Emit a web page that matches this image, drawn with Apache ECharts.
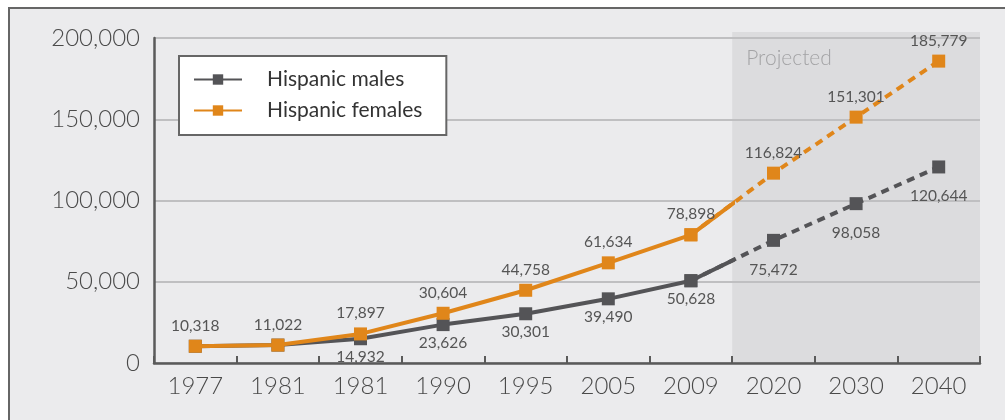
<!DOCTYPE html>
<html><head><meta charset="utf-8">
<script src="https://cdn.jsdelivr.net/npm/echarts@6/dist/echarts.min.js"></script>
<style>
html,body{margin:0;padding:0;background:#fff;overflow:hidden}
#frame{position:absolute;left:8px;top:7px;width:1010px;height:420px;background:#ebebed;border:2px solid #666;}
#chart{position:absolute;left:0;top:0;width:1005px;height:420px}
</style></head><body><div id="frame"></div><div id="chart"></div>
<script>
const years = ['1977','1981','1981','1990','1995','2005','2009','2020','2030','2040'];
const males = [10318,11022,14932,23626,30301,39490,50628,75472,98058,120644];
const females = [10318,11022,17897,30604,44758,61634,78898,116824,151301,185779];
const yMin = 0, yMax = 200000, yStep = 50000;
const firstProjected = 7;
const seriesNames = ['Hispanic males','Hispanic females'];
const projectedLabel = 'Projected';

const gray = '#545457', orange = '#e0861a';
const FF = 'Lato, "Open Sans", sans-serif';
const fmt = v => String(v).replace(/\B(?=(\d{3})+(?!\d))/g, ',');

const chart = echarts.init(document.getElementById('chart'), null, {renderer:'canvas'});
const nCat = years.length;
const gridLeft = 154, gridRight = 25, gridTop = 38, gridBottom = 57;
const plotW = 1005 - gridLeft - gridRight;

function labelStyle(pos, dist) {
  return {show:true, position:pos, distance:dist, color:'#555', fontSize:15.5, fontWeight:400, fontFamily:FF};
}
function solid(name, vals, color, pos, dist, z, skipEqual) {
  return {
    name, type:'line', xAxisIndex:1, yAxisIndex:1, clip:true, z,
    data: vals.slice(0, firstProjected+1).map((v,i)=>[i,v]),
    symbol:'rect', symbolSize:13, animation:false,
    lineStyle:{color, width:4}, itemStyle:{color},
    emphasis:{disabled:true},
    label:Object.assign(labelStyle(pos, dist), {
      formatter: p => (p.dataIndex < firstProjected && !(skipEqual && males[p.dataIndex]===females[p.dataIndex])) ? fmt(vals[p.dataIndex]) : ''})
  };
}
function dashed(name, vals, color, pos, dist, z) {
  return {
    name, type:'line', xAxisIndex:0, yAxisIndex:0, z,
    data: vals.map((v,i)=> i >= firstProjected-1 ? v : null),
    symbol:'rect', symbolSize:13, animation:false,
    lineStyle:{color, width:4, type:[8,6]}, itemStyle:{color},
    emphasis:{disabled:true},
    label:Object.assign(labelStyle(pos, dist), {
      formatter: p => p.dataIndex >= firstProjected ? fmt(vals[p.dataIndex]) : ''})
  };
}

chart.setOption({
  animation:false,
  backgroundColor:'transparent',
  textStyle:{fontFamily:FF},
  grid:[
    {left:gridLeft, right:gridRight, top:gridTop, bottom:gridBottom},
    {left:gridLeft, width: plotW*firstProjected/nCat, top:gridTop, bottom:gridBottom}
  ],
  legend:{
    data: seriesNames, orient:'vertical', left:179, top:56, selectedMode:false,
    backgroundColor:'#fff', borderColor:'#666', borderWidth:2,
    padding:[13,24,14,14], itemWidth:48, itemHeight:13, itemGap:10,
    textStyle:{fontSize:21, color:'#333', fontWeight:400, fontFamily:FF, padding:[0,0,0,20]}
  },
  xAxis:[
    {type:'category', gridIndex:0, data:years, boundaryGap:true,
     axisLine:{show:true, lineStyle:{color:'#5a5a5a', width:2.5}},
     axisTick:{show:true, inside:true, length:7, lineStyle:{color:'#5a5a5a', width:2}},
     axisLabel:{color:'#4a4a4a', fontSize:24, fontWeight:300, fontFamily:FF, margin:11},
     splitLine:{show:false}},
    {type:'value', gridIndex:1, min:-0.5, max:firstProjected-0.5, show:false, splitLine:{show:false}}
  ],
  yAxis:[
    {type:'value', gridIndex:0, min:yMin, max:yMax, interval:yStep,
     axisLine:{show:true, lineStyle:{color:'#5a5a5a', width:2.5}},
     axisTick:{show:false},
     axisLabel:{color:'#4a4a4a', fontSize:24, fontWeight:300, fontFamily:FF, margin:14, formatter: v => fmt(v)},
     splitLine:{show:true, lineStyle:{color:'#bfbfc1', width:2}}},
    {type:'value', gridIndex:1, min:yMin, max:yMax, interval:yStep, show:false, splitLine:{show:false}}
  ],
  series:[
    solid(seriesNames[0], males, gray, 'bottom', 4, 4, true),
    solid(seriesNames[1], females, orange, 'top', 6, 5, false),
    dashed(seriesNames[0], males, gray, 'bottom', 15, 2),
    dashed(seriesNames[1], females, orange, 'top', 6, 3)
  ]
});

const x0 = chart.convertToPixel({xAxisIndex:1}, firstProjected-0.5);
const x1 = chart.convertToPixel({xAxisIndex:1}, nCat-0.5);
const yTop = chart.convertToPixel({yAxisIndex:0}, yMax) - 6;
const yBot = chart.convertToPixel({yAxisIndex:0}, yMin);
chart.setOption({
  graphic:[
    {type:'rect', z:-10, silent:true, shape:{x:x0, y:yTop, width:x1-x0, height:yBot-yTop}, style:{fill:'#dcdcde'}},
    {type:'text', z:-9, silent:true, x:x0+14, y:yTop+16, style:{text:projectedLabel, fill:'#a3a3a5', font:'300 21px ' + FF}}
  ]
});
</script></body></html>
